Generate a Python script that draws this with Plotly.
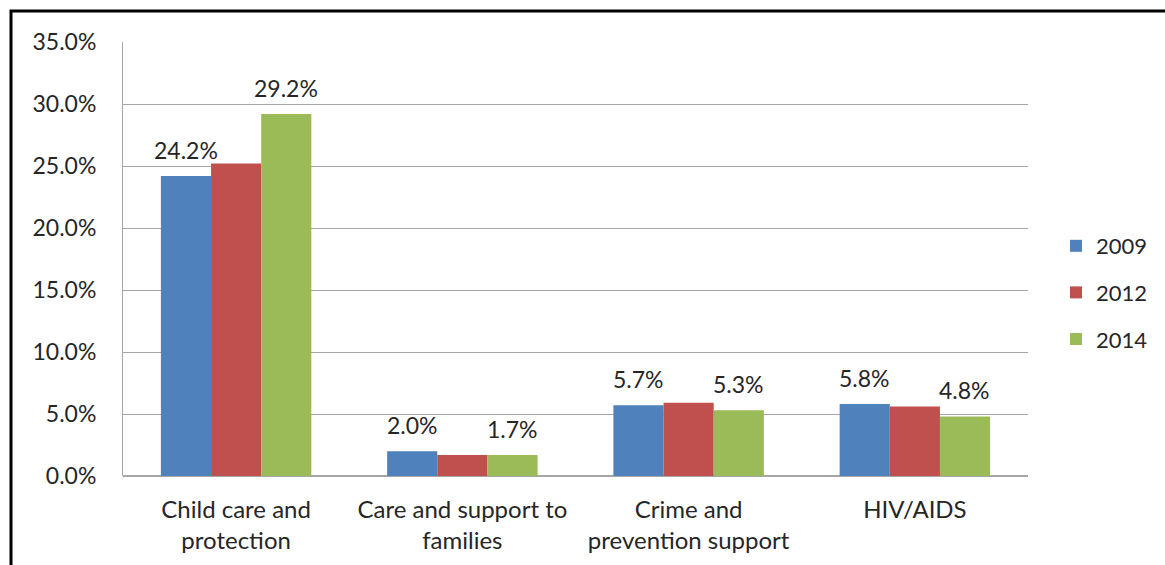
import plotly.graph_objects as go

categories = ["Child care and<br>protection", "Care and support to<br>families", "Crime and<br>prevention support", "HIV/AIDS"]
years = ["2009", "2012", "2014"]
v2009 = [24.2, 2.0, 5.7, 5.8]
v2012 = [25.2, 1.7, 5.9, 5.6]
v2014 = [29.2, 1.7, 5.3, 4.8]
colors = ["#4F81BD", "#C0504D", "#9BBB59"]
label_shift = {"2009": -50, "2014": 50}
y_ticks = [0, 5, 10, 15, 20, 25, 30, 35]

FONT = "Lato, 'Open Sans', sans-serif"
TXT = "#262626"
fig = go.Figure()
for name, vals, col in zip(years, [v2009, v2012, v2014], colors):
    fig.add_trace(go.Bar(
        x=categories, y=vals, name=name, legendgroup=name,
        marker=dict(color=col, line=dict(width=0)),
    ))

annotations = []
for name, vals in zip(years, [v2009, v2012, v2014]):
    if name not in label_shift:
        continue
    for c, v in zip(categories, vals):
        annotations.append(dict(x=c, y=v, xref="x", yref="y", text=f"{v:.1f}%",
                                showarrow=False, xshift=label_shift[name], yshift=10,
                                yanchor="bottom", font=dict(size=23, color=TXT, family=FONT)))

L, R, T, B = 123, 1165 - 1028, 42, 565 - 476
W, H = 1165 - L - R, 565 - T - B

def px(x):
    return (x - L) / W

def py(y):
    return (565 - B - y) / H

fig.update_layout(
    width=1165, height=565,
    margin=dict(l=L, r=R, t=T, b=B),
    barmode="group", bargap=0.335, bargroupgap=0,
    plot_bgcolor="white", paper_bgcolor="white",
    font=dict(family=FONT, size=23, color=TXT),
    xaxis=dict(showline=False, ticks="", tickfont=dict(size=24, color=TXT), ticklabelstandoff=17),
    yaxis=dict(range=[0, 35], tickvals=y_ticks, ticktext=[f"{t:.1f}%" for t in y_ticks],
               showgrid=True, gridcolor="#A6A6A6", gridwidth=1,
               showline=True, linecolor="#A6A6A6", linewidth=1,
               zeroline=True, zerolinecolor="#A6A6A6", ticks="",
               ticklabelstandoff=21, tickfont=dict(size=23, color=TXT)),
    legend=dict(x=px(1056), y=py(225), xanchor="left", yanchor="top",
                font=dict(size=22, color=TXT), itemwidth=30, tracegroupgap=15,
                traceorder="grouped", bgcolor="rgba(0,0,0,0)"),
    showlegend=True,
    annotations=annotations,
    shapes=[dict(type="rect", xref="paper", yref="paper",
                 x0=px(11), x1=px(1180), y0=py(11), y1=py(580),
                 line=dict(color="black", width=3))],
)
fig.write_html("out.html", config={"displayModeBar": False},
               post_script="document.body.style.margin='0';document.body.style.overflow='hidden';")
